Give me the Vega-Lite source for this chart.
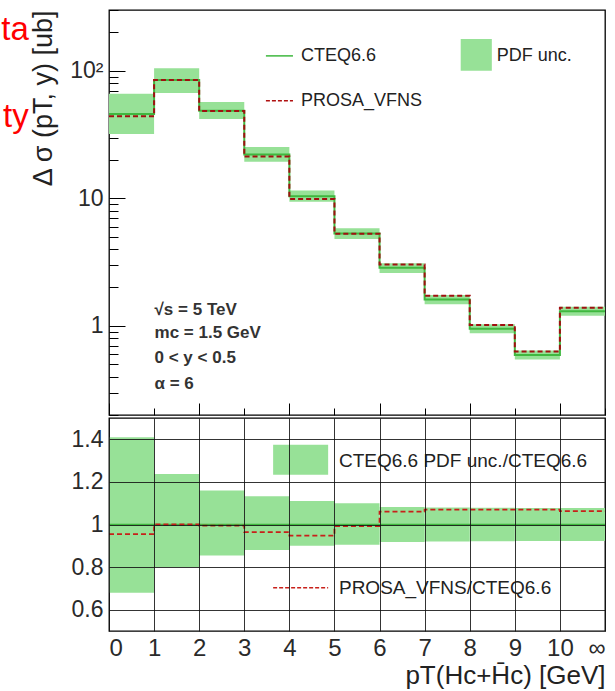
{
  "$schema": "https://vega.github.io/schema/vega-lite/v6.json",
  "padding": {"left": 0, "top": 8, "right": 5, "bottom": 5},
  "spacing": 0,
  "config": {
    "font": "Liberation Sans",
    "view": {"stroke": "black", "strokeWidth": 1.3},
    "axis": {"labelFont": "Liberation Sans", "titleFont": "Liberation Sans", "labelColor": "#2a2a2a", "titleColor": "#222", "domain": false, "tickColor": "black", "titleFontWeight": "normal"}
  },
  "datasets": {
    "bins": [
      {"lo": 0, "hi": 1, "c": 45.9, "bl": 32, "bh": 66, "p": 44.1, "rl": 0.68, "rh": 1.41, "rp": 0.955},
      {"lo": 1, "hi": 2, "c": 84.6, "bl": 67, "bh": 105, "p": 84.6, "rl": 0.80, "rh": 1.237, "rp": 1.0},
      {"lo": 2, "hi": 3, "c": 48.7, "bl": 42, "bh": 57, "p": 48.5, "rl": 0.855, "rh": 1.16, "rp": 0.995},
      {"lo": 3, "hi": 4, "c": 22.1, "bl": 19.4, "bh": 25.3, "p": 21.3, "rl": 0.88, "rh": 1.133, "rp": 0.964},
      {"lo": 4, "hi": 5, "c": 10.4, "bl": 9.4, "bh": 11.5, "p": 9.9, "rl": 0.90, "rh": 1.11, "rp": 0.948},
      {"lo": 5, "hi": 6, "c": 5.3, "bl": 4.8, "bh": 5.83, "p": 5.28, "rl": 0.905, "rh": 1.10, "rp": 0.992},
      {"lo": 6, "hi": 7, "c": 2.85, "bl": 2.6, "bh": 3.1, "p": 3.03, "rl": 0.918, "rh": 1.082, "rp": 1.06},
      {"lo": 7, "hi": 8, "c": 1.61, "bl": 1.48, "bh": 1.75, "p": 1.72, "rl": 0.92, "rh": 1.08, "rp": 1.07},
      {"lo": 8, "hi": 9, "c": 0.95, "bl": 0.875, "bh": 1.03, "p": 1.018, "rl": 0.921, "rh": 1.079, "rp": 1.07},
      {"lo": 9, "hi": 10, "c": 0.59, "bl": 0.544, "bh": 0.64, "p": 0.63, "rl": 0.922, "rh": 1.078, "rp": 1.07},
      {"lo": 10, "hi": 11, "c": 1.30, "bl": 1.20, "bh": 1.41, "p": 1.39, "rl": 0.923, "rh": 1.077, "rp": 1.063}
    ],
    "steps": [
      {"x": 0, "c": 45.9, "p": 44.1, "one": 1, "rp": 0.955},
      {"x": 1, "c": 84.6, "p": 84.6, "one": 1, "rp": 1.0},
      {"x": 2, "c": 48.7, "p": 48.5, "one": 1, "rp": 0.995},
      {"x": 3, "c": 22.1, "p": 21.3, "one": 1, "rp": 0.964},
      {"x": 4, "c": 10.4, "p": 9.9, "one": 1, "rp": 0.948},
      {"x": 5, "c": 5.3, "p": 5.28, "one": 1, "rp": 0.992},
      {"x": 6, "c": 2.85, "p": 3.03, "one": 1, "rp": 1.06},
      {"x": 7, "c": 1.61, "p": 1.72, "one": 1, "rp": 1.07},
      {"x": 8, "c": 0.95, "p": 1.018, "one": 1, "rp": 1.07},
      {"x": 9, "c": 0.59, "p": 0.63, "one": 1, "rp": 1.07},
      {"x": 10, "c": 1.30, "p": 1.39, "one": 1, "rp": 1.063},
      {"x": 11, "c": 1.30, "p": 1.39, "one": 1, "rp": 1.063}
    ]
  },
  "vconcat": [
    {
      "width": 496,
      "height": 405,
      "layer": [
        {
          "data": {"name": "bins"},
          "mark": {"type": "rect", "color": "#97e197"},
          "encoding": {
            "x": {"field": "lo", "type": "quantitative", "scale": {"domain": [0, 11], "nice": false, "zero": false},
              "axis": {"title": null, "labels": false, "values": [0,0.5,1,1.5,2,2.5,3,3.5,4,4.5,5,5.5,6,6.5,7,7.5,8,8.5,9,9.5,10,10.5,11],
                "tickSize": {"condition": {"test": "datum.value % 2 === 0", "value": -12}, "value": -7}, "tickWidth": 1, "grid": false}},
            "x2": {"field": "hi"},
            "y": {"field": "bl", "type": "quantitative", "scale": {"type": "log", "domain": [0.2, 300], "nice": false},
              "axis": {"title": "Δ σ (pT, y) [ub]", "titleFontSize": 27, "titleAnchor": "end", "titlePadding": 12,
                "values": [0.2,0.3,0.4,0.5,0.6,0.7,0.8,0.9,1,2,3,4,5,6,7,8,9,10,20,30,40,50,60,70,80,90,100,200,300],
                "labelExpr": "datum.value === 100 ? '10²' : datum.value === 10 ? '10' : datum.value === 1 ? '1' : ''",
                "labelFontSize": 23, "labelPadding": 22,
                "tickSize": {"condition": {"test": "datum.value === 1 || datum.value === 10 || datum.value === 100", "value": -16}, "value": -9},
                "grid": false}},
            "y2": {"field": "bh"}
          }
        },
        {
          "data": {"name": "steps"},
          "mark": {"type": "line", "interpolate": "step-after", "color": "#3fb83f", "strokeWidth": 2},
          "encoding": {"x": {"field": "x", "type": "quantitative"}, "y": {"field": "c", "type": "quantitative"}}
        },
        {
          "data": {"name": "steps"},
          "mark": {"type": "line", "interpolate": "step-after", "color": "#a01010", "strokeWidth": 2, "strokeDash": [5, 3]},
          "encoding": {"x": {"field": "x", "type": "quantitative"}, "y": {"field": "p", "type": "quantitative"}}
        },
        {
          "data": {"values": [{}]},
          "mark": {"type": "rule", "color": "#3fb83f", "strokeWidth": 1.5},
          "encoding": {"x": {"datum": 3.48, "type": "quantitative"}, "x2": {"datum": 4.08}, "y": {"datum": 131, "type": "quantitative"}}
        },
        {
          "data": {"values": [{}]},
          "mark": {"type": "rule", "color": "#b01010", "strokeWidth": 1.5, "strokeDash": [4, 2]},
          "encoding": {"x": {"datum": 3.48, "type": "quantitative"}, "x2": {"datum": 4.08}, "y": {"datum": 58.3, "type": "quantitative"}}
        },
        {
          "data": {"values": [{}]},
          "mark": {"type": "rect", "color": "#97e197"},
          "encoding": {"x": {"datum": 7.8, "type": "quantitative"}, "x2": {"datum": 8.49}, "y": {"datum": 100, "type": "quantitative"}, "y2": {"datum": 178}}
        },
        {
          "data": {"values": [{"t": "CTEQ6.6"}]},
          "mark": {"type": "text", "align": "left", "baseline": "middle", "fontSize": 18, "color": "#222"},
          "encoding": {"x": {"datum": 4.26, "type": "quantitative"}, "y": {"datum": 131, "type": "quantitative"}, "text": {"field": "t"}}
        },
        {
          "data": {"values": [{"t": "PROSA_VFNS"}]},
          "mark": {"type": "text", "align": "left", "baseline": "middle", "fontSize": 18, "color": "#222"},
          "encoding": {"x": {"datum": 4.26, "type": "quantitative"}, "y": {"datum": 58.3, "type": "quantitative"}, "text": {"field": "t"}}
        },
        {
          "data": {"values": [{"t": "PDF unc."}]},
          "mark": {"type": "text", "align": "left", "baseline": "middle", "fontSize": 18, "color": "#222"},
          "encoding": {"x": {"datum": 8.6, "type": "quantitative"}, "y": {"datum": 131, "type": "quantitative"}, "text": {"field": "t"}}
        },
        {
          "data": {"values": [{"t": "√s = 5 TeV"}]},
          "mark": {"type": "text", "align": "left", "baseline": "middle", "fontSize": 17, "fontWeight": "bold", "color": "#333"},
          "encoding": {"x": {"datum": 1.01, "type": "quantitative"}, "y": {"datum": 1.33, "type": "quantitative"}, "text": {"field": "t"}}
        },
        {
          "data": {"values": [{"t": "mc = 1.5 GeV"}]},
          "mark": {"type": "text", "align": "left", "baseline": "middle", "fontSize": 17, "fontWeight": "bold", "color": "#333"},
          "encoding": {"x": {"datum": 1.01, "type": "quantitative"}, "y": {"datum": 0.88, "type": "quantitative"}, "text": {"field": "t"}}
        },
        {
          "data": {"values": [{"t": "0 < y < 0.5"}]},
          "mark": {"type": "text", "align": "left", "baseline": "middle", "fontSize": 17, "fontWeight": "bold", "color": "#333"},
          "encoding": {"x": {"datum": 1.01, "type": "quantitative"}, "y": {"datum": 0.56, "type": "quantitative"}, "text": {"field": "t"}}
        },
        {
          "data": {"values": [{"t": "α = 6"}]},
          "mark": {"type": "text", "align": "left", "baseline": "middle", "fontSize": 17, "fontWeight": "bold", "color": "#333"},
          "encoding": {"x": {"datum": 1.01, "type": "quantitative"}, "y": {"datum": 0.35, "type": "quantitative"}, "text": {"field": "t"}}
        },
        {
          "data": {"values": [{"t": "ta"}]},
          "mark": {"type": "text", "align": "right", "baseline": "alphabetic", "fontSize": 33, "color": "#ff0000"},
          "encoding": {"x": {"datum": -1.78, "type": "quantitative"}, "y": {"datum": 175, "type": "quantitative"}, "text": {"field": "t"}}
        },
        {
          "data": {"values": [{"t": "ty"}]},
          "mark": {"type": "text", "align": "right", "baseline": "alphabetic", "fontSize": 33, "color": "#ff0000"},
          "encoding": {"x": {"datum": -1.78, "type": "quantitative"}, "y": {"datum": 36, "type": "quantitative"}, "text": {"field": "t"}}
        }
      ]
    },
    {
      "width": 496,
      "height": 213,
      "layer": [
        {
          "data": {"name": "bins"},
          "mark": {"type": "rect", "color": "#97e197"},
          "encoding": {
            "x": {"field": "lo", "type": "quantitative", "scale": {"domain": [0, 11], "nice": false, "zero": false},
              "axis": {"title": "pT(Hc+H̄c) [GeV]", "titleFontSize": 26, "titleAnchor": "end", "titlePadding": 2,
                "values": [0,1,2,3,4,5,6,7,8,9,10,11], "labelExpr": "datum.value === 11 ? '∞' : datum.label",
                "labelFontSize": 24, "labelPadding": 5, "ticks": false,
                "grid": true, "gridColor": "#111", "gridOpacity": 0.85, "gridWidth": 1, "zindex": 1}},
            "x2": {"field": "hi"},
            "y": {"field": "rl", "type": "quantitative", "scale": {"domain": [0.5, 1.5], "nice": false, "zero": false},
              "axis": {"title": null, "values": [0.6, 0.8, 1, 1.2, 1.4], "labelExpr": "datum.value === 1 ? '1' : format(datum.value, '.1f')",
                "labelFontSize": 23, "labelPadding": 6, "ticks": false,
                "grid": true, "gridColor": "#111", "gridOpacity": 0.85, "gridWidth": 1, "zindex": 1}},
            "y2": {"field": "rh"}
          }
        },
        {
          "data": {"name": "steps"},
          "mark": {"type": "line", "interpolate": "step-after", "color": "#3fb83f", "strokeWidth": 1.5},
          "encoding": {"x": {"field": "x", "type": "quantitative"}, "y": {"field": "one", "type": "quantitative"}}
        },
        {
          "data": {"name": "steps"},
          "mark": {"type": "line", "interpolate": "step-after", "color": "#c8201a", "strokeWidth": 1.8, "strokeDash": [5, 3]},
          "encoding": {"x": {"field": "x", "type": "quantitative"}, "y": {"field": "rp", "type": "quantitative"}}
        },
        {
          "data": {"values": [{}]},
          "mark": {"type": "rect", "color": "#97e197"},
          "encoding": {"x": {"datum": 3.64, "type": "quantitative"}, "x2": {"datum": 4.86}, "y": {"datum": 1.234, "type": "quantitative"}, "y2": {"datum": 1.375}}
        },
        {
          "data": {"values": [{}]},
          "mark": {"type": "rule", "color": "#c8201a", "strokeWidth": 1.5, "strokeDash": [4, 2]},
          "encoding": {"x": {"datum": 3.64, "type": "quantitative"}, "x2": {"datum": 4.86}, "y": {"datum": 0.703, "type": "quantitative"}}
        },
        {
          "data": {"values": [{"t": "CTEQ6.6 PDF unc./CTEQ6.6"}]},
          "mark": {"type": "text", "align": "left", "baseline": "middle", "fontSize": 19, "color": "#222"},
          "encoding": {"x": {"datum": 5.1, "type": "quantitative"}, "y": {"datum": 1.3, "type": "quantitative"}, "text": {"field": "t"}}
        },
        {
          "data": {"values": [{"t": "PROSA_VFNS/CTEQ6.6"}]},
          "mark": {"type": "text", "align": "left", "baseline": "middle", "fontSize": 19, "color": "#222"},
          "encoding": {"x": {"datum": 5.1, "type": "quantitative"}, "y": {"datum": 0.703, "type": "quantitative"}, "text": {"field": "t"}}
        }
      ]
    }
  ]
}
